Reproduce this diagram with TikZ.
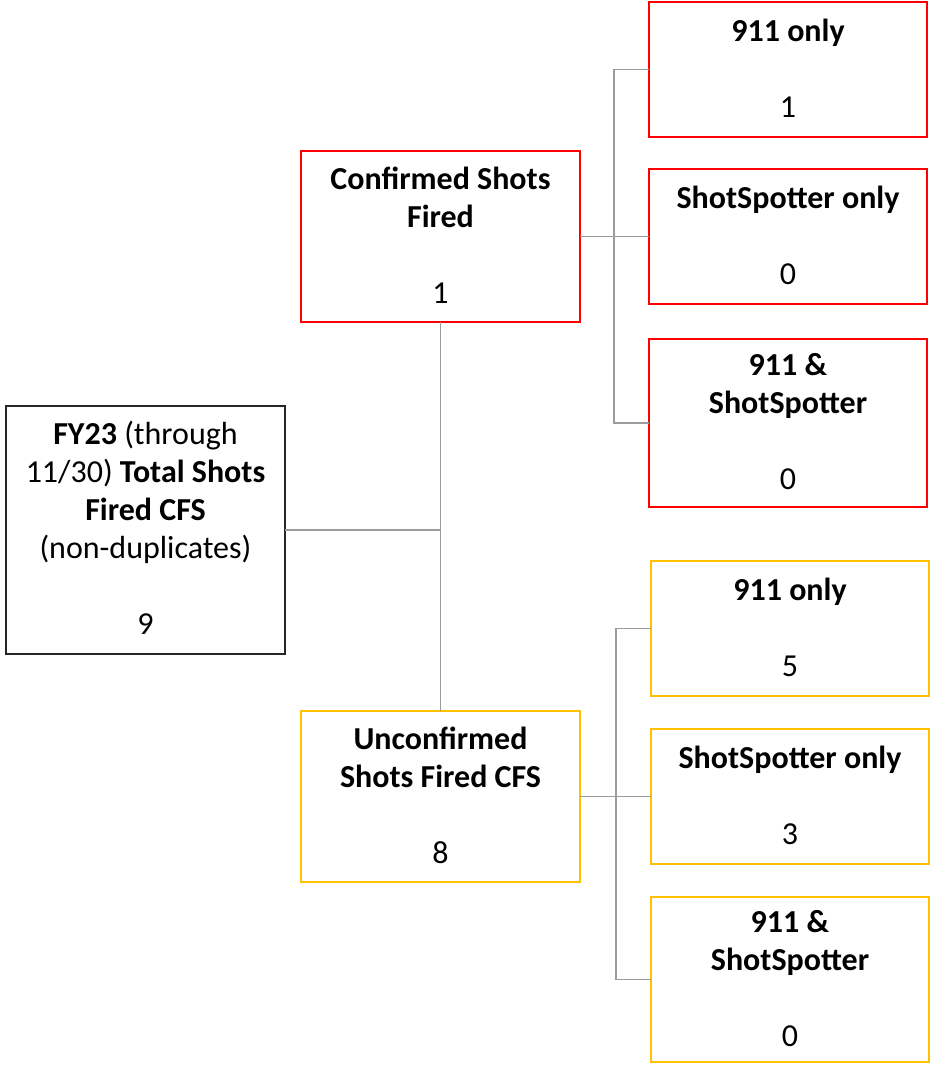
\documentclass[tikz,border=0pt]{standalone}
\usepackage{fontspec}
\setmainfont{Carlito}
\newcommand\ts{\rule{0pt}{24pt}}
\newcommand\tsb{\rule[-5pt]{0pt}{5pt}}
\definecolor{cred}{HTML}{FF0000}
\definecolor{cyel}{HTML}{FFC000}
\definecolor{cline}{HTML}{9C9C9C}
\definecolor{cdark}{HTML}{262626}
\begin{document}
\begin{tikzpicture}[x=1pt,y=-1pt,
  box/.style={draw, rectangle, line width=2.8pt, fill=white, inner sep=0pt, outer sep=0pt,
    align=center, font=\fontsize{32}{38}\selectfont, minimum width=279pt},
  redbox/.style={box, draw=cred},
  yelbox/.style={box, draw=cyel},
  rootbox/.style={box, draw=cdark},
  conn/.style={draw=cline, line width=1.5pt}]
\useasboundingbox (0,0) rectangle (931,1065);
% boxes
\node[rootbox, minimum height=248pt] (root) at (145.5,530)
  {\ts\textbf{FY23} (through\\ 11/30) \textbf{Total Shots}\\ \textbf{Fired CFS}\\ (non-duplicates)\\[38pt] 9\tsb};
\node[redbox, minimum height=171pt] (conf) at (440.5,236.5)
  {\ts\textbf{Confirmed Shots}\\ \textbf{Fired}\\[38pt] 1\tsb};
\node[yelbox, minimum height=171pt] (unconf) at (440.5,796.5)
  {\ts\textbf{Unconfirmed}\\ \textbf{Shots Fired CFS}\\[38pt] 8\tsb};
\node[redbox, minimum width=278pt, minimum height=135pt] (r1) at (788,69.5)
  {\ts\textbf{911 only}\\[38pt] 1\tsb};
\node[redbox, minimum width=278pt, minimum height=135pt] (r2) at (788,236.5)
  {\ts\textbf{ShotSpotter only}\\[38pt] 0\tsb};
\node[redbox, minimum width=278pt, minimum height=168pt] (r3) at (788,423)
  {\ts\textbf{911 \&}\\ \textbf{ShotSpotter}\\[38pt] 0\tsb};
\node[yelbox, minimum width=278pt, minimum height=135pt] (y1) at (790,628.5)
  {\ts\textbf{911 only}\\[38pt] 5\tsb};
\node[yelbox, minimum width=278pt, minimum height=135pt] (y2) at (790,796.5)
  {\ts\textbf{ShotSpotter only}\\[38pt] 3\tsb};
\node[yelbox, minimum width=278pt, minimum height=165pt] (y3) at (790,979.5)
  {\ts\textbf{911 \&}\\ \textbf{ShotSpotter}\\[38pt] 0\tsb};
% junctions
\coordinate (cj) at (614,236.5);
\coordinate (uj) at (616,796.5);
% connectors
\draw[conn] (conf.south) -- (unconf.north);
\draw[conn] (root.east) -- (root.east -| conf.south);
\draw[conn] (conf.east) -- (cj);
\draw[conn] (r1.west) -- (r1.west -| cj) -- (r3.west -| cj) -- (r3.west);
\draw[conn] (r2.west) -- (r2.west -| cj);
\draw[conn] (unconf.east) -- (uj);
\draw[conn] (y1.west) -- (y1.west -| uj) -- (y3.west -| uj) -- (y3.west);
\draw[conn] (y2.west) -- (y2.west -| uj);
\end{tikzpicture}
\end{document}
